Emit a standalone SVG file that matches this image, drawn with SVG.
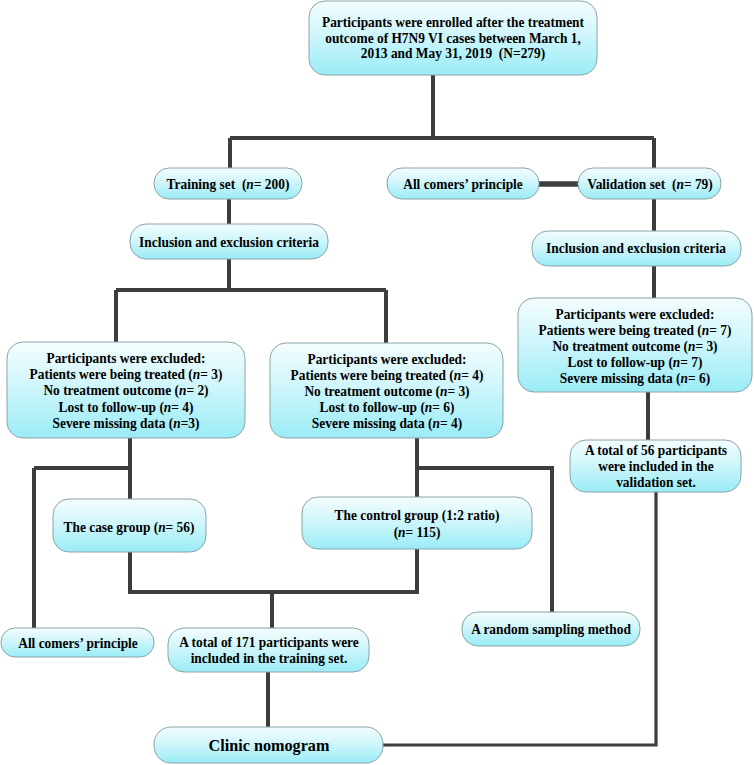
<svg xmlns="http://www.w3.org/2000/svg" width="754" height="765" viewBox="0 0 754 765">
<defs>
<linearGradient id="g" x1="0" y1="0" x2="0" y2="1">
<stop offset="0" stop-color="#f4fdfe"/>
<stop offset="0.45" stop-color="#d0f6fb"/>
<stop offset="1" stop-color="#9aecf6"/>
</linearGradient>
</defs>
<style>
.box{fill:url(#g);stroke:#8aa3a8;stroke-width:1}
text{font-family:"Liberation Serif","Times New Roman",serif;font-weight:bold;font-size:14.5px;fill:#000;text-anchor:middle}
.big{font-size:17.5px}
.i{font-style:italic}
.c{fill:none;stroke:#3d3d3d;stroke-width:4;stroke-linecap:butt;stroke-linejoin:miter}
</style>
<rect width="754" height="765" fill="#fff"/>
<g id="connectors">
<path class="c" d="M433,75 V138 M230,138 H654 M230,138 V168 M654,138 V168"/>
<path class="c" d="M539,184 H578" style="stroke-width:5.5"/>
<path class="c" d="M229,199 V224 M654,198 V231"/>
<path class="c" d="M229,259 V290 M116,290 H386 M116,290 V342 M386,290 V343"/>
<path class="c" d="M654,266 V298 M648,392 V440"/>
<path class="c" d="M130,438 V468 M34,468 H130 M34,468 V628 M130,468 V499"/>
<path class="c" d="M417,438 V468 H552 V612 M417,468 V497"/>
<path class="c" d="M130,552 V592 H417 V549 M272,592 V628"/>
<path class="c" d="M268,672 V727"/>
<path class="c" d="M383,745 H656 V492" style="stroke-width:3.2"/>
</g>
<g id="n-top">
<rect class="box" x="309" y="1" width="288" height="74" rx="16"/>
<g transform="matrix(0.925,0,0,1,33.975,0)">
<text x="453" y="27">Participants were enrolled after the treatment</text>
<text x="453" y="43">outcome of H7N9 VI cases between March 1,</text>
<text x="453" y="58" xml:space="preserve">2013 and May 31, 2019  (N=279)</text>
</g>
</g>
<g id="n-training">
<rect class="box" x="154" y="168" width="148" height="31" rx="15"/>
<g transform="matrix(0.925,0,0,1,17.1,0)">
<text x="228" y="189" xml:space="preserve">Training set  (<tspan class="i">n</tspan>= 200)</text>
</g>
</g>
<g id="n-allcomers-top">
<rect class="box" x="387" y="168" width="152" height="31" rx="15"/>
<g transform="matrix(0.925,0,0,1,34.725,0)">
<text x="463" y="189">All comers’ principle</text>
</g>
</g>
<g id="n-validation">
<rect class="box" x="578" y="168" width="143" height="31" rx="15"/>
<g transform="matrix(0.925,0,0,1,48.75,0)">
<text x="650" y="189" xml:space="preserve">Validation set  (<tspan class="i">n</tspan>= 79)</text>
</g>
</g>
<g id="n-incl-left">
<rect class="box" x="130" y="224" width="198" height="35" rx="16"/>
<g transform="matrix(0.925,0,0,1,17.175,0)">
<text x="229" y="247">Inclusion and exclusion criteria</text>
</g>
</g>
<g id="n-incl-right">
<rect class="box" x="532" y="231" width="209" height="35" rx="16"/>
<g transform="matrix(0.925,0,0,1,47.7,0)">
<text x="636" y="253">Inclusion and exclusion criteria</text>
</g>
</g>
<g id="n-excl-1">
<rect class="box" x="7" y="342" width="238" height="96" rx="16"/>
<g transform="matrix(0.925,0,0,1,9.45,0)">
<text x="126" y="363">Participants were excluded:</text>
<text x="126" y="379">Patients were being treated (<tspan class="i">n</tspan>= 3)</text>
<text x="126" y="395">No treatment outcome (<tspan class="i">n</tspan>= 2)</text>
<text x="126" y="412">Lost to follow-up (<tspan class="i">n</tspan>= 4)</text>
<text x="126" y="428">Severe missing data (<tspan class="i">n</tspan>=3)</text>
</g>
</g>
<g id="n-excl-2">
<rect class="box" x="270" y="343" width="233" height="95" rx="16"/>
<g transform="matrix(0.925,0,0,1,29.025,0)">
<text x="387" y="364">Participants were excluded:</text>
<text x="387" y="380">Patients were being treated (<tspan class="i">n</tspan>= 4)</text>
<text x="387" y="396">No treatment outcome (<tspan class="i">n</tspan>= 3)</text>
<text x="387" y="412">Lost to follow-up (<tspan class="i">n</tspan>= 6)</text>
<text x="387" y="428">Severe missing data (<tspan class="i">n</tspan>= 4)</text>
</g>
</g>
<g id="n-excl-right">
<rect class="box" x="518" y="298" width="234" height="94" rx="16"/>
<g transform="matrix(0.925,0,0,1,47.625,0)">
<text x="635" y="319">Participants were excluded:</text>
<text x="635" y="335">Patients were being treated (<tspan class="i">n</tspan>= 7)</text>
<text x="635" y="351">No treatment outcome (<tspan class="i">n</tspan>= 3)</text>
<text x="635" y="367">Lost to follow-up (<tspan class="i">n</tspan>= 7)</text>
<text x="635" y="383">Severe missing data (<tspan class="i">n</tspan>= 6)</text>
</g>
</g>
<g id="n-total56">
<rect class="box" x="570" y="440" width="171" height="52" rx="16"/>
<g transform="matrix(0.925,0,0,1,49.2,0)">
<text x="656" y="455">A total of 56 participants</text>
<text x="656" y="471">were included in the</text>
<text x="656" y="487">validation set.</text>
</g>
</g>
<g id="n-case">
<rect class="box" x="53" y="499" width="153" height="53" rx="16"/>
<g transform="matrix(0.925,0,0,1,9.675,0)">
<text x="129" y="532">The case group (<tspan class="i">n</tspan>= 56)</text>
</g>
</g>
<g id="n-control">
<rect class="box" x="302" y="497" width="230" height="52" rx="16"/>
<g transform="matrix(0.925,0,0,1,31.275,0)">
<text x="417" y="520">The control group (1:2 ratio)</text>
<text x="417" y="537">(<tspan class="i">n</tspan>= 115)</text>
</g>
</g>
<g id="n-allcomers-bottom">
<rect class="box" x="1" y="628" width="153" height="29" rx="14"/>
<g transform="matrix(0.925,0,0,1,5.85,0)">
<text x="78" y="648">All comers’ principle</text>
</g>
</g>
<g id="n-total171">
<rect class="box" x="168" y="628" width="201" height="44" rx="16"/>
<g transform="matrix(0.925,0,0,1,20.175,0)">
<text x="269" y="647">A total of 171 participants were</text>
<text x="269" y="663">included in the training set.</text>
</g>
</g>
<g id="n-random">
<rect class="box" x="462" y="612" width="178" height="34" rx="16"/>
<g transform="matrix(0.925,0,0,1,41.325,0)">
<text x="551" y="634">A random sampling method</text>
</g>
</g>
<g id="n-clinic">
<rect class="box" x="154" y="727" width="229" height="36" rx="17"/>
<g transform="matrix(0.925,0,0,1,20.175,0)">
<text class="big" x="269" y="751">Clinic nomogram</text>
</g>
</g>
</svg>
